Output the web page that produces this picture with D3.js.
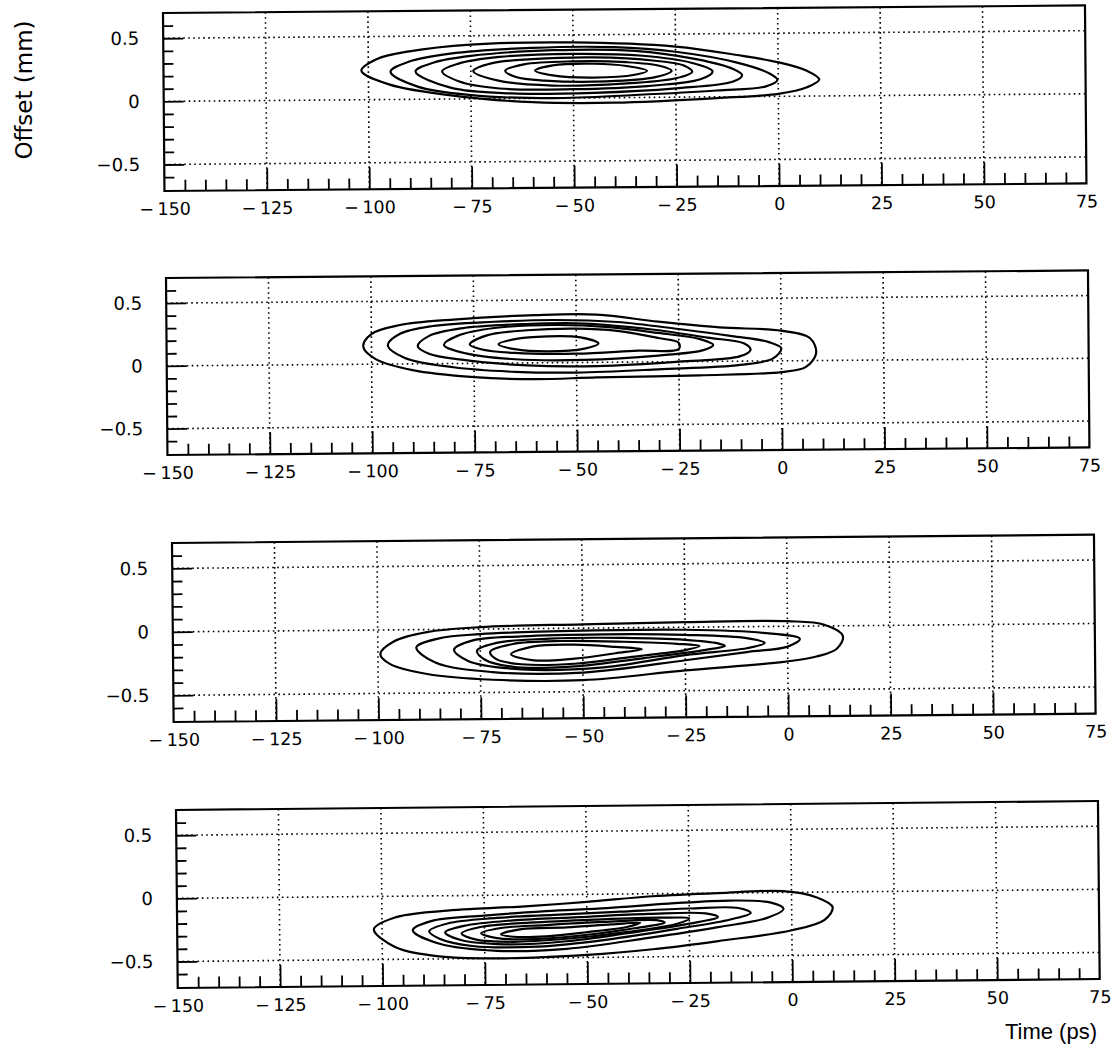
<!DOCTYPE html>
<html><head><meta charset="utf-8">
<script src="https://cdn.jsdelivr.net/npm/d3@7"></script>
<style>body{margin:0;background:#fff}svg{display:block}</style>
</head><body>
<svg id="chart" width="1117" height="1053"></svg>
<script>
// ---------- data ----------
const xTickValues = [-150,-125,-100,-75,-50,-25,0,25,50,75];
const yTickValues = [-0.5,0,0.5];
const xMinorTicks = [-145,-140,-135,-130,-120,-115,-110,-105,-95,-90,-85,-80,-70,-65,-60,-55,-45,-40,-35,-30,-20,-15,-10,-5,5,10,15,20,30,35,40,45,55,60,65,70];
const yMinorTicks = [-0.6,-0.4,-0.3,-0.2,-0.1,0.1,0.2,0.3,0.4,0.6];
const xDomain = [-150,75];
const yDomain = [-0.71,0.70];
const yAxisTitle = "Offset (mm)";
const xAxisTitle = "Time (ps)";

// contour lines: [time (ps), offset (mm)]
const contours1 = [
 [[-101.7,0.23],[-98,0.32],[-90,0.38],[-75,0.43],[-50,0.44],[-25,0.40],[-10,0.33],[0,0.27],[7,0.2],[10,0.13],[7,0.07],[0,0.02],[-15,-0.01],[-40,-0.04],[-60,-0.03],[-78,0.02],[-95,0.12]],
 [[-94.6,0.22],[-90,0.3],[-80,0.36],[-60,0.40],[-40,0.40],[-25,0.36],[-10,0.27],[-2,0.18],[-0.2,0.13],[-3,0.08],[-15,0.05],[-35,0.02],[-55,0.0],[-75,0.03],[-88,0.1]],
 [[-88.5,0.22],[-84,0.29],[-75,0.34],[-55,0.38],[-35,0.37],[-20,0.3],[-11,0.22],[-8.8,0.17],[-11,0.12],[-25,0.07],[-45,0.04],[-65,0.04],[-80,0.09]],
 [[-82,0.22],[-78,0.28],[-68,0.33],[-50,0.35],[-33,0.33],[-21,0.27],[-16,0.2],[-19,0.14],[-32,0.09],[-50,0.07],[-68,0.08],[-78,0.14]],
 [[-74.4,0.22],[-70,0.28],[-60,0.31],[-45,0.32],[-30,0.29],[-23,0.25],[-21,0.2],[-25,0.15],[-38,0.11],[-55,0.1],[-68,0.14]],
 [[-66.6,0.22],[-62,0.27],[-50,0.29],[-37,0.28],[-29,0.25],[-26,0.21],[-30,0.16],[-42,0.13],[-57,0.14],[-64,0.17]],
 [[-59.3,0.22],[-55,0.26],[-45,0.27],[-37,0.25],[-32,0.21],[-35,0.18],[-45,0.16],[-55,0.18]]
];
const contours2 = [
 [[-102,0.14],[-100,0.24],[-93,0.31],[-80,0.35],[-60,0.38],[-45,0.38],[-30,0.32],[-15,0.27],[0,0.24],[7,0.18],[8.5,0.06],[6,-0.05],[0,-0.09],[-20,-0.11],[-45,-0.12],[-60,-0.13],[-75,-0.11],[-90,-0.05],[-99,0.04]],
 [[-96,0.15],[-93,0.24],[-85,0.3],[-70,0.33],[-55,0.34],[-40,0.32],[-25,0.26],[-12,0.2],[-3,0.15],[0,0.1],[-2,0.02],[-10,-0.03],[-30,-0.06],[-50,-0.08],[-65,-0.07],[-80,-0.03],[-92,0.05]],
 [[-88.7,0.14],[-86,0.22],[-78,0.28],[-62,0.31],[-48,0.31],[-32,0.26],[-18,0.19],[-9,0.14],[-7.5,0.09],[-10,0.04],[-25,0.0],[-45,-0.03],[-62,-0.02],[-78,0.03],[-86,0.08]],
 [[-82.3,0.15],[-79,0.22],[-70,0.28],[-55,0.3],[-42,0.28],[-30,0.23],[-20,0.18],[-16.6,0.13],[-19,0.09],[-30,0.05],[-48,0.02],[-65,0.03],[-77,0.08]],
 [[-76,0.15],[-72,0.22],[-62,0.26],[-50,0.27],[-40,0.25],[-30,0.19],[-25,0.15],[-25,0.1],[-35,0.09],[-50,0.07],[-65,0.08],[-73,0.11]],
 [[-69,0.15],[-65,0.19],[-57,0.21],[-49,0.2],[-44.6,0.15],[-48,0.11],[-57,0.09],[-65,0.11]]
];
const contours3 = [
 [[-99.4,-0.19],[-96,-0.09],[-88,-0.02],[-75,0.015],[-50,0.03],[-25,0.04],[0,0.04],[9,0.01],[13.5,-0.08],[12,-0.18],[7,-0.24],[-1,-0.28],[-25,-0.34],[-50,-0.41],[-72,-0.4],[-88,-0.35],[-97,-0.27]],
 [[-90.6,-0.14],[-85,-0.07],[-75,-0.04],[-50,-0.02],[-25,-0.02],[-6,-0.05],[3,-0.1],[0,-0.16],[-10,-0.2],[-25,-0.26],[-50,-0.35],[-72,-0.34],[-86,-0.26]],
 [[-81.4,-0.16],[-77,-0.09],[-65,-0.06],[-45,-0.05],[-25,-0.06],[-10,-0.09],[-5.6,-0.13],[-10,-0.17],[-25,-0.22],[-45,-0.31],[-65,-0.32],[-78,-0.25]],
 [[-75.8,-0.17],[-71,-0.11],[-58,-0.08],[-40,-0.08],[-25,-0.1],[-17,-0.13],[-15.3,-0.15],[-20,-0.18],[-35,-0.24],[-52,-0.3],[-67,-0.3],[-74,-0.24]],
 [[-72.6,-0.18],[-67,-0.12],[-55,-0.1],[-40,-0.11],[-27,-0.13],[-21.5,-0.15],[-25,-0.18],[-38,-0.23],[-52,-0.28],[-65,-0.28],[-71,-0.24]],
 [[-67.5,-0.2],[-62,-0.14],[-52,-0.13],[-42,-0.15],[-35.6,-0.17],[-42,-0.2],[-52,-0.24],[-62,-0.25]]
];
const contours4 = [
 [[-102,-0.26],[-97,-0.17],[-85,-0.12],[-65,-0.09],[-50,-0.06],[-34,-0.02],[-18,0.0],[-2,0.01],[6,-0.04],[10,-0.12],[8,-0.22],[0,-0.3],[-18,-0.38],[-34,-0.44],[-50,-0.48],[-70,-0.5],[-86,-0.48],[-97,-0.4]],
 [[-92.5,-0.27],[-88,-0.2],[-75,-0.16],[-60,-0.13],[-45,-0.11],[-30,-0.08],[-15,-0.06],[-5,-0.08],[-2,-0.13],[-6,-0.2],[-18,-0.27],[-35,-0.35],[-55,-0.43],[-72,-0.44],[-86,-0.38]],
 [[-88.5,-0.28],[-84,-0.22],[-72,-0.18],[-58,-0.16],[-42,-0.14],[-25,-0.12],[-13,-0.12],[-10,-0.16],[-15,-0.21],[-28,-0.28],[-45,-0.36],[-62,-0.41],[-78,-0.4],[-86,-0.34]],
 [[-84.6,-0.29],[-80,-0.24],[-68,-0.2],[-52,-0.18],[-35,-0.16],[-21,-0.16],[-18,-0.19],[-25,-0.24],[-40,-0.31],[-55,-0.37],[-70,-0.39],[-81,-0.35]],
 [[-80.6,-0.3],[-76,-0.25],[-64,-0.22],[-48,-0.2],[-32,-0.19],[-25,-0.2],[-28,-0.24],[-40,-0.3],[-55,-0.35],[-68,-0.37],[-77,-0.35]],
 [[-75.8,-0.3],[-71,-0.26],[-60,-0.24],[-46,-0.22],[-33,-0.21],[-31,-0.23],[-38,-0.27],[-50,-0.32],[-63,-0.35],[-72,-0.34]],
 [[-71,-0.31],[-66,-0.27],[-55,-0.26],[-44,-0.24],[-37,-0.23],[-40,-0.26],[-50,-0.3],[-60,-0.33],[-68,-0.33]]
];

// ---------- layout ----------
const W = 922;
const panels = [
  {left:163, top:13,  height:178, angle:-0.47, contours:contours1},
  {left:166, top:278, height:177, angle:-0.47, contours:contours2},
  {left:172, top:543, height:179, angle:-0.52, contours:contours3},
  {left:176, top:810, height:178, angle:-0.56, contours:contours4}
];
const FONT = "'DejaVu Sans', sans-serif";

const svg = d3.select('#chart');
svg.append('rect').attr('width',1117).attr('height',1053).attr('fill','#fff');

const yFmt = d => d === 0 ? '0' : d3.format('.1f')(d);
const xFmt = d => d < 0 ? '\u2212\u2009' + Math.abs(d) : String(d);

panels.forEach(p => {
  const h = p.height;
  const x = d3.scaleLinear().domain(xDomain).range([0, W]);
  const y = d3.scaleLinear().domain(yDomain).range([h, 0]);
  const g = svg.append('g').attr('transform', `translate(${p.left},${p.top}) rotate(${p.angle})`);

  // dotted grid
  const grid = g.append('g').attr('stroke','#000').attr('stroke-width',1.6)
     .attr('stroke-dasharray','1.6,3.4').attr('fill','none');
  grid.selectAll('.gx').data(xTickValues.slice(1,-1)).join('line')
     .attr('x1', d=>x(d)).attr('x2', d=>x(d)).attr('y1',0).attr('y2',h);
  grid.selectAll('.gy').data(yTickValues).join('line')
     .attr('x1',0).attr('x2',W).attr('y1', d=>y(d)).attr('y2', d=>y(d));

  // contours
  const line = d3.line().x(d=>x(d[0])).y(d=>y(d[1])).curve(d3.curveCatmullRomClosed.alpha(0.5));
  g.append('g').selectAll('path').data(p.contours).join('path')
     .attr('d', line).attr('fill','none').attr('stroke','#000')
     .attr('stroke-width',2.2).attr('stroke-linejoin','round');

  // inward ticks on bottom
  const styleAxis = sel => { sel.select('.domain').remove(); sel.selectAll('line').attr('stroke','#000').attr('stroke-width',1.8); };
  g.append('g').attr('transform',`translate(0,${h})`)
     .call(d3.axisTop(x).tickValues(xTickValues.slice(1,-1)).tickSize(22).tickFormat(''))
     .call(styleAxis);
  g.append('g').attr('transform',`translate(0,${h})`)
     .call(d3.axisTop(x).tickValues(xMinorTicks).tickSize(11).tickFormat(''))
     .call(styleAxis);
  // inward ticks on left
  g.append('g')
     .call(d3.axisRight(y).tickValues(yTickValues).tickSize(20).tickFormat(''))
     .call(styleAxis);
  g.append('g')
     .call(d3.axisRight(y).tickValues(yMinorTicks).tickSize(10).tickFormat(''))
     .call(styleAxis);

  // tick labels
  const xl = g.append('g').attr('transform',`translate(0,${h})`)
     .call(d3.axisBottom(x).tickValues(xTickValues).tickSize(0).tickFormat(xFmt));
  xl.select('.domain').remove();
  xl.selectAll('text').attr('y',24).attr('dy',null)
     .attr('font-family',FONT).attr('font-size',17.5).attr('fill','#000');

  const yl = g.append('g')
     .call(d3.axisLeft(y).tickValues(yTickValues).tickSize(0).tickPadding(24).tickFormat(yFmt));
  yl.select('.domain').remove();
  yl.selectAll('text').attr('font-family',FONT).attr('font-size',18).attr('fill','#000');

  // frame
  g.append('rect').attr('width',W).attr('height',h)
     .attr('fill','none').attr('stroke','#000').attr('stroke-width',2.2);
});

// axis titles
svg.append('text').text(yAxisTitle)
  .attr('transform','translate(32,90) rotate(-90)')
  .attr('text-anchor','middle').attr('font-family',FONT).attr('font-size',23).attr('fill','#000');
svg.append('text').text(xAxisTitle)
  .attr('x',1097).attr('y',1039).attr('text-anchor','end')
  .attr('font-family',"'Liberation Sans', Arial, sans-serif").attr('font-size',22).attr('fill','#000');
</script>
</body></html>
